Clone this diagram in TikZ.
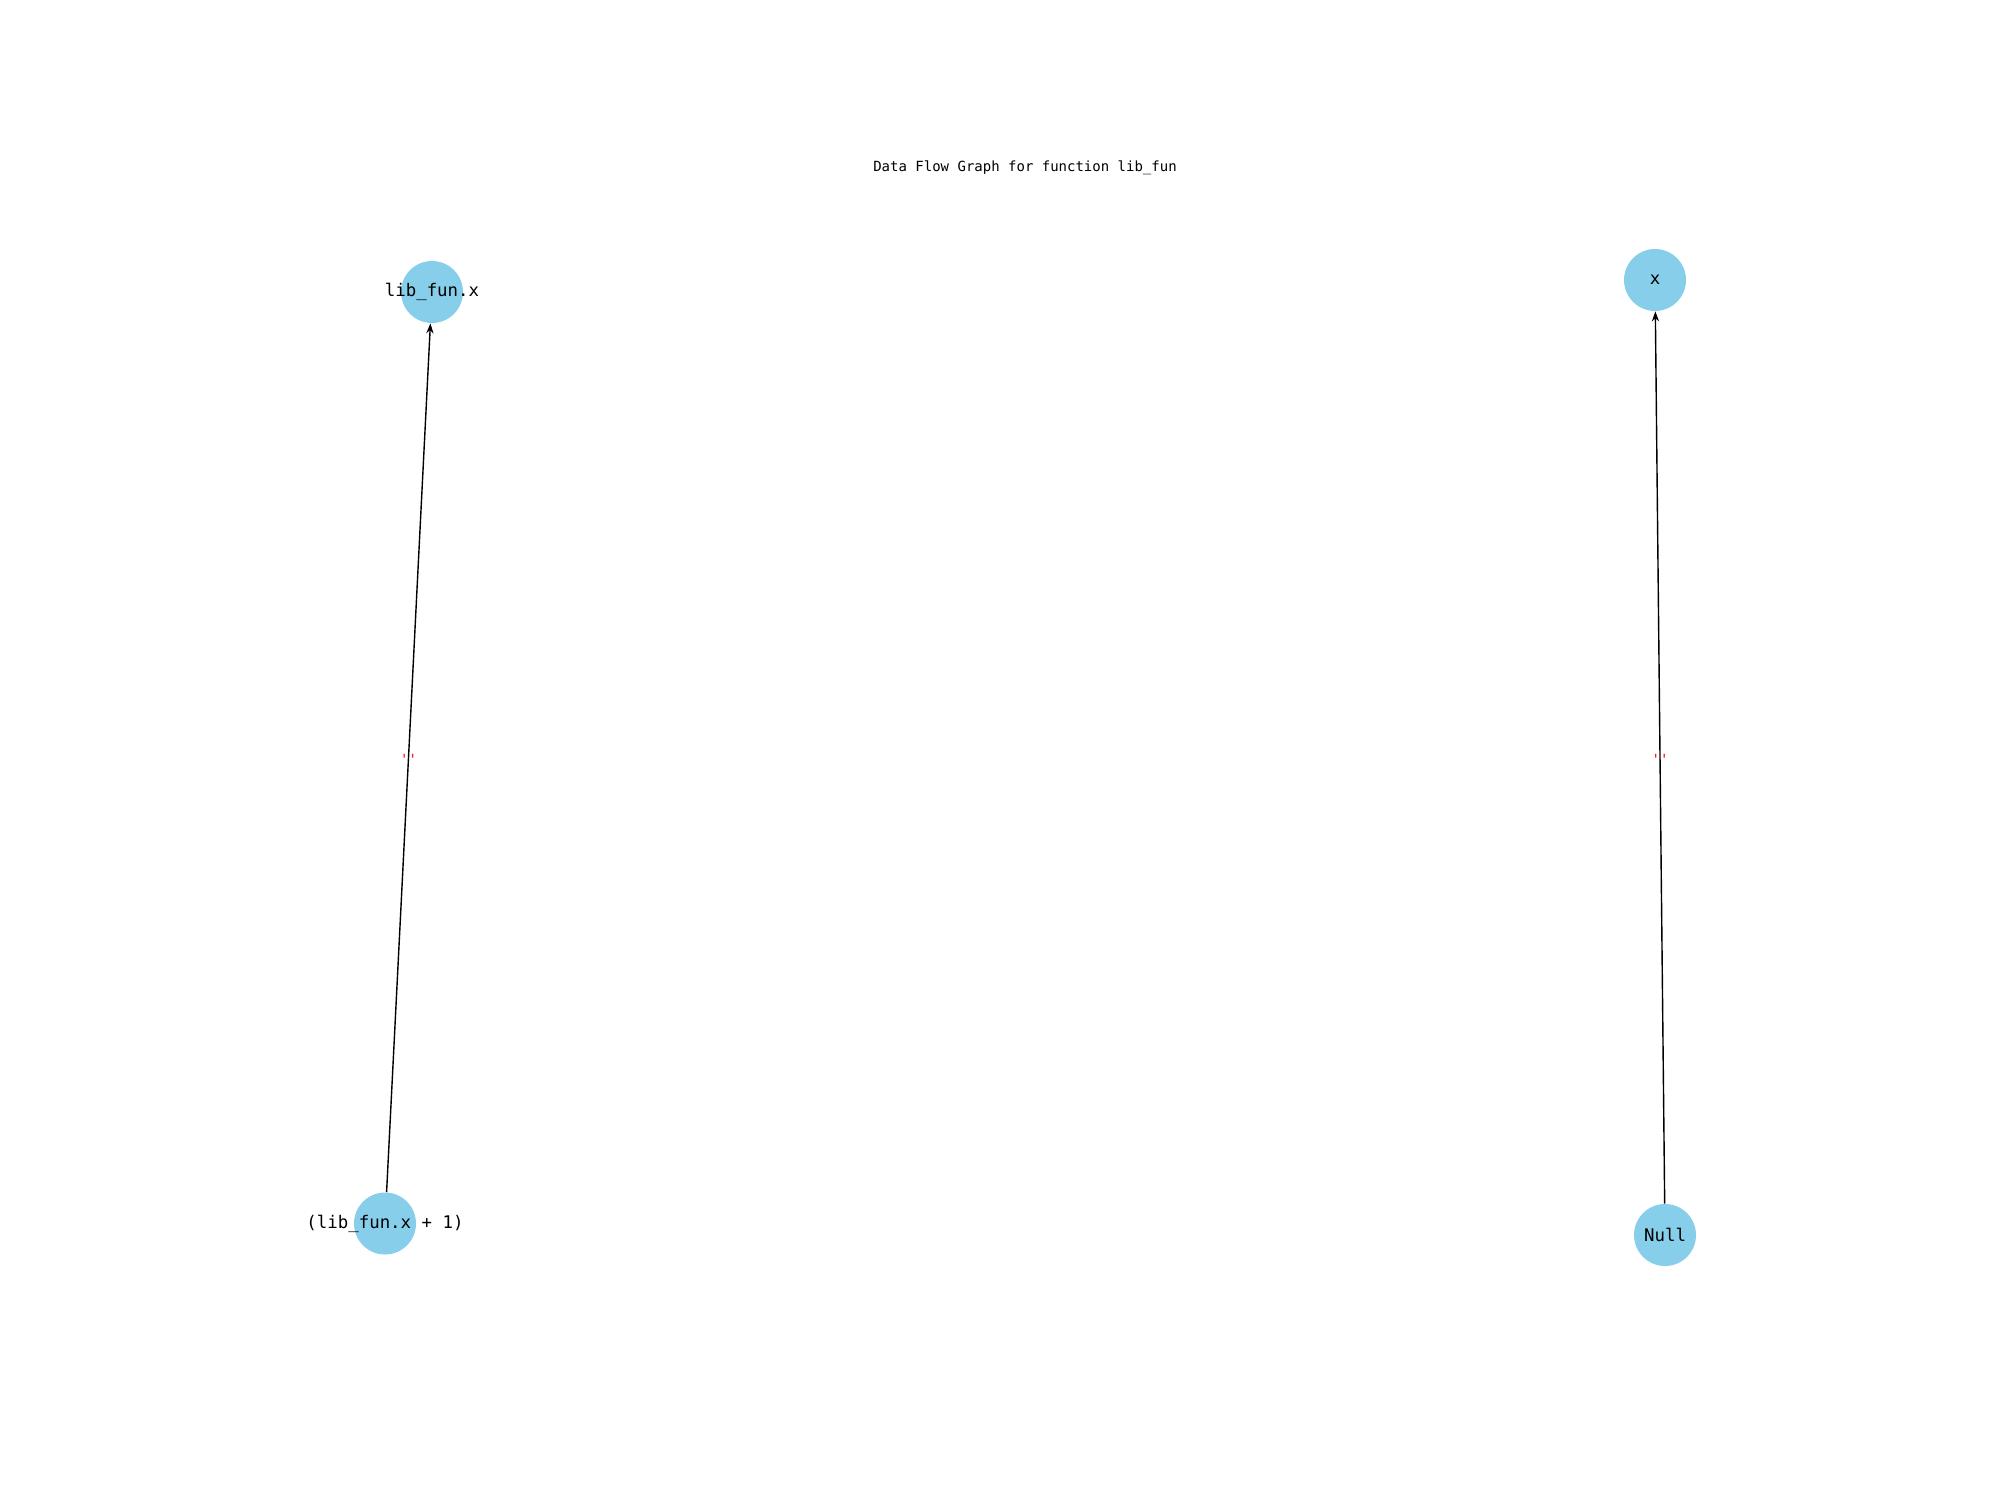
\documentclass[tikz,border=0pt]{standalone}
\usepackage{fontspec}
\setmonofont{DejaVu Sans Mono}
\usetikzlibrary{arrows.meta}
\definecolor{skyb}{HTML}{87CEEB}
\begin{document}
\begin{tikzpicture}[x=0.5pt,y=-0.5pt,
  vert/.style={circle, fill=skyb, draw=none, minimum size=31pt, inner sep=0pt},
  lbl/.style={font=\ttfamily\fontsize{8.7pt}{10pt}\selectfont, inner sep=0pt},
  flow/.style={-{Stealth[length=5pt,width=3.6pt]}, line width=0.7pt, black},
  elbl/.style={font=\ttfamily\fontsize{7pt}{8pt}\selectfont, text=red, inner sep=0pt}]
\useasboundingbox (0,0) rectangle (2000,1500);
\node[font=\ttfamily\fontsize{7pt}{9pt}\selectfont, inner sep=0pt] (title) at (1025,167.5) {Data Flow Graph for function lib\_fun};
\node[vert] (a) at (432,292) {};
\node[vert] (b) at (385,1223.5) {};
\node[vert] (c) at (1655,280) {};
\node[vert] (d) at (1665,1235) {};
\node[lbl] (ta) at (a) {lib\_fun.x};
\node[lbl] (tb) at (b) {(lib\_fun.x + 1)};
\node[lbl] (tc) at (c) {x};
\node[lbl] (td) at (d) {Null};
\draw[flow] (b) -- node[elbl, yshift=-1pt] (eb) {''} (a);
\draw[flow] (d) -- node[elbl, yshift=-1pt] (ed) {''} (c);
\end{tikzpicture}
\end{document}
